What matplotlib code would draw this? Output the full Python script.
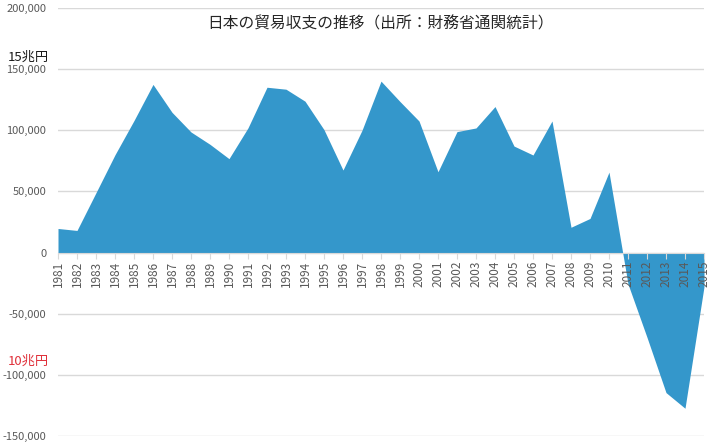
import matplotlib
matplotlib.use("Agg")
import matplotlib.pyplot as plt
from matplotlib.ticker import FuncFormatter

plt.rcParams['font.family'] = ['Noto Sans CJK JP', 'DejaVu Sans']

# 貿易収支 (億円)
years = list(range(1981, 2016))
balance = [19700, 18100, 49000, 80000, 108000, 137500, 114700, 98600, 88500, 76800,
           102000, 135200, 133600, 123800, 100500, 67500, 100000, 140200, 123500, 107600,
           66100, 98900, 101900, 119400, 87100, 79800, 107600, 20700, 27900, 65800,
           -25700, -69300, -114500, -127300, -27900]
yticks = [-150000, -100000, -50000, 0, 50000, 100000, 150000, 200000]

title = "日本の貿易収支の推移（出所：財務省通関統計）"
note_15 = "15兆円"
note_10 = "10兆円"

fig = plt.figure(figsize=(7.14, 4.46), dpi=100)
ax = fig.add_axes([58 / 714, 1 - 436 / 446, (704 - 58) / 714, (436 - 8) / 446])

ax.fill_between(years, 0, balance, color='#3497CB', linewidth=0, zorder=1)

ax.set_xlim(1981, 2015)
ax.set_ylim(-150000, 200000)
ax.set_yticks(yticks)
ax.yaxis.set_major_formatter(FuncFormatter(lambda v, p: f"{int(v):,}"))
ax.set_xticks(years)
ax.set_xticklabels([str(y) for y in years])

# gridlines behind the area, tick labels above it
for v in yticks:
    ax.axhline(v, color='#D9D9D9', linewidth=1, zorder=0)
for s in ['top', 'right', 'left']:
    ax.spines[s].set_visible(False)
ax.spines['bottom'].set_position(('data', 0))
ax.spines['bottom'].set_color('#D9D9D9')
ax.tick_params(axis='y', length=0, pad=8.5, labelsize=8, labelcolor='#595959')
ax.tick_params(axis='x', direction='out', length=4, color='#D9D9D9', pad=2,
               labelsize=8.5, labelcolor='#595959', labelrotation=90)

fig.text(380 / 714, 1 - 24 / 446, title, ha='center', va='center', fontsize=11.3, color='#262626')
fig.text(8 / 714, 1 - 57 / 446, note_15, ha='left', va='center', fontsize=9.5, color='#1a1a1a')
fig.text(8 / 714, 1 - 361 / 446, note_10, ha='left', va='center', fontsize=9.5, color='#E0303A')

fig.savefig("out.png", dpi=100)
